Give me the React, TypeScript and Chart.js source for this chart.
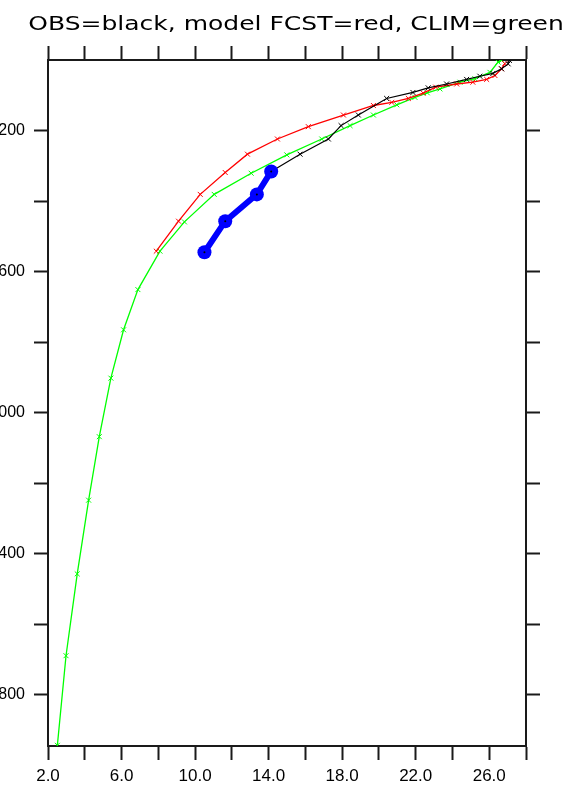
import React, { useEffect, useRef } from "react";
import { Chart, registerables } from "chart.js";

Chart.register(...registerables);

const TITLE = "OBS=black, model FCST=red, CLIM=green";

// temperature axis
const xTickValues = [2, 4, 6, 8, 10, 12, 14, 16, 18, 20, 22, 24, 26, 28];
const xLabelValues = [2, 6, 10, 14, 18, 22, 26];
// depth axis
const yTickValues = [200, 400, 600, 800, 1000, 1200, 1400, 1600, 1800];
const yLabelValues = [200, 600, 1000, 1400, 1800];

// CLIM (green)
const climTemp = [2.51, 2.98, 3.59, 4.21, 4.79, 5.42, 6.11, 6.89, 8.09, 9.42, 11.04, 13.05, 14.99, 16.89, 18.43, 19.7, 20.97, 21.96, 22.63, 23.32, 24.41, 25.22, 26.04, 26.48, 26.67];
const climDepth = [1943, 1689, 1457, 1248, 1068, 902, 765, 651, 542, 459, 381, 321, 269, 224, 186, 156, 127, 106, 93, 82, 63, 53, 35, 6, 1];

// model FCST (red)
const fcstTemp = [7.89, 9.1, 10.28, 11.64, 12.85, 14.48, 16.16, 18.07, 19.7, 20.7, 21.6, 22.41, 23.09, 24.23, 25.11, 25.86, 26.31, 26.67, 26.85];
const fcstDepth = [542, 457, 381, 319, 267, 224, 189, 156, 129, 120, 109, 94, 77, 68, 63, 55, 44, 25, 10];

// OBS (black)
const obsTemp = [14.14, 15.71, 17.25, 17.94, 18.88, 20.42, 21.85, 22.68, 23.68, 24.77, 25.49, 26.2, 26.67, 27.03, 27.1];
const obsDepth = [316, 267, 224, 186, 156, 109, 92, 79, 68, 55, 46, 38, 25, 11, 1];

// highlighted obs (blue)
const blueTemp = [10.51, 11.64, 13.36, 14.14];
const blueDepth = [545, 457, 381, 316];

const pts = (xs: number[], ys: number[]) => xs.map((x, i) => ({ x, y: ys[i] }));

const AXIS_COLOR = "#1a1a1a";

const titlePlugin = {
  id: "ownTitle",
  afterDraw(chart: any) {
    const ctx = chart.ctx as CanvasRenderingContext2D;
    ctx.save();
    ctx.font = '20px "DejaVu Sans"';
    ctx.fillStyle = "#000";
    ctx.textAlign = "center";
    ctx.textBaseline = "alphabetic";
    ctx.translate(296, 30);
    ctx.scale(1.25, 1);
    ctx.fillText(TITLE, 0, 0);
    ctx.restore();
  },
};

function gridOpts() {
  return {
    display: true,
    drawOnChartArea: false,
    drawTicks: true,
    tickLength: 14,
    tickWidth: 2,
    tickColor: AXIS_COLOR,
  };
}
const borderOpts = { display: true, color: AXIS_COLOR, width: 2 };

export default function App() {
  const ref = useRef<HTMLCanvasElement | null>(null);

  useEffect(() => {
    if (!ref.current) return;
    const chart = new Chart(ref.current, {
      type: "scatter",
      data: {
        datasets: [
          {
            label: "CLIM",
            data: pts(climTemp, climDepth),
            showLine: true,
            borderColor: "#00ff00",
            backgroundColor: "#00ff00",
            borderWidth: 1.3,
            pointStyle: "crossRot",
            pointRadius: 3.5,
            pointBorderWidth: 1,
            pointBorderColor: "#00ff00",
            order: 4,
          },
          {
            label: "FCST",
            data: pts(fcstTemp, fcstDepth),
            showLine: true,
            borderColor: "#ff0000",
            backgroundColor: "#ff0000",
            borderWidth: 1.3,
            pointStyle: "crossRot",
            pointRadius: 3.5,
            pointBorderWidth: 1,
            pointBorderColor: "#ff0000",
            order: 3,
          },
          {
            label: "OBS",
            data: pts(obsTemp, obsDepth),
            showLine: true,
            borderColor: "#000000",
            backgroundColor: "#000000",
            borderWidth: 1.2,
            pointStyle: "crossRot",
            pointRadius: 3.5,
            pointBorderWidth: 1,
            pointBorderColor: "#000000",
            order: 2,
          },
          {
            label: "OBS (blue)",
            data: pts(blueTemp, blueDepth),
            showLine: true,
            borderColor: "#0000ff",
            backgroundColor: "#0000ff",
            borderWidth: 6,
            pointStyle: "circle",
            pointRadius: 7,
            pointBorderWidth: 0,
            pointBackgroundColor: "#0000ff",
            order: 1,
          },
          {
            label: "centers",
            data: pts(blueTemp, blueDepth),
            showLine: false,
            pointStyle: "circle",
            pointRadius: 1,
            pointBorderWidth: 0,
            pointBackgroundColor: "#000000",
            order: 0,
          },
        ],
      },
      options: {
        responsive: false,
        maintainAspectRatio: false,
        animation: false,
        layout: { padding: 0 },
        plugins: {
          legend: { display: false },
          tooltip: { enabled: false },
          title: { display: false },
        },
        scales: {
          x: {
            type: "linear",
            position: "bottom",
            min: 2,
            max: 28,
            afterBuildTicks: (s: any) => {
              s.ticks = xTickValues.map((v) => ({ value: v }));
            },
            afterFit: (s: any) => {
              s.height = 40;
            },
            ticks: {
              autoSkip: false,
              maxRotation: 0,
              minRotation: 0,
              padding: 6,
              color: "#000",
              font: { family: "Liberation Sans", size: 17 },
              callback: (v: any) => (xLabelValues.includes(Number(v)) ? Number(v).toFixed(1) : ""),
            },
            grid: gridOpts(),
            border: borderOpts,
          },
          x2: {
            type: "linear",
            axis: "x",
            position: "top",
            min: 2,
            max: 28,
            afterBuildTicks: (s: any) => {
              s.ticks = xTickValues.map((v) => ({ value: v }));
            },
            afterFit: (s: any) => {
              s.height = 60;
            },
            ticks: { display: false },
            grid: gridOpts(),
            border: borderOpts,
          },
          y: {
            type: "linear",
            position: "left",
            reverse: true,
            min: 0,
            max: 1945,
            afterBuildTicks: (s: any) => {
              s.ticks = yTickValues.map((v) => ({ value: v }));
            },
            afterFit: (s: any) => {
              s.width = 48;
            },
            ticks: {
              autoSkip: false,
              padding: 9,
              color: "#000",
              font: { family: "Liberation Sans", size: 16 },
              callback: (v: any) => (yLabelValues.includes(Number(v)) ? String(v) : ""),
            },
            grid: gridOpts(),
            border: borderOpts,
          },
          y2: {
            type: "linear",
            axis: "y",
            position: "right",
            reverse: true,
            min: 0,
            max: 1945,
            afterBuildTicks: (s: any) => {
              s.ticks = yTickValues.map((v) => ({ value: v }));
            },
            afterFit: (s: any) => {
              s.width = 51;
            },
            ticks: { display: false },
            grid: gridOpts(),
            border: borderOpts,
          },
        },
      } as any,
      plugins: [titlePlugin],
    });
    return () => chart.destroy();
  }, []);

  return (
    <div style={{ position: "absolute", left: 0, top: 0, width: 577, height: 786, background: "#fff" }}>
      <canvas ref={ref} width={577} height={786} style={{ display: "block" }} />
    </div>
  );
}
